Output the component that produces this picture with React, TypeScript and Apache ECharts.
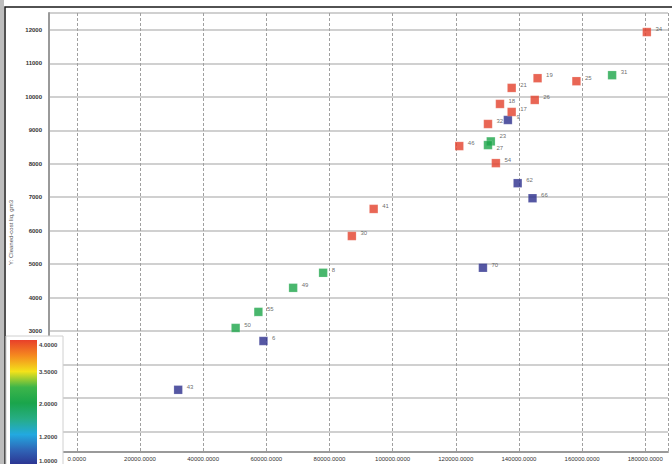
import React, { useEffect, useRef } from "react";
import * as echarts from "echarts";

// Point labels, x values, y values, colour-scale values (1 = blue, ~2.7 = green, 4 = red)
const pointNames = ["43", "6", "50", "55", "49", "8", "30", "41", "70", "46", "23", "27", "54", "62", "66", "32", "9", "17", "18", "21", "26", "19", "25", "31", "34"];
const xValues = [32100, 59100, 50300, 57500, 68500, 78000, 87100, 94000, 128600, 121100, 131100, 130200, 132700, 139600, 144300, 130200, 136500, 137700, 134000, 137700, 145000, 145900, 158200, 169500, 180500];
const yValues = [1240, 2700, 3090, 3570, 4290, 4740, 5840, 6650, 4890, 8530, 8670, 8560, 8020, 7420, 6970, 9190, 9310, 9550, 9790, 10270, 9910, 10560, 10470, 10650, 11940];
const colorValues = [1, 1, 2.7, 2.7, 2.7, 2.7, 4, 4, 1, 4, 2.7, 2.7, 4, 1, 1, 4, 1, 4, 4, 4, 4, 4, 4, 2.7, 4];

// Colour bar tick labels (top to bottom)
const colorBarLabels = ["4.0000", "3.5000", "2.0000", "1.2000", "1.0000"];
const colorBarLabelY = [345, 372, 404, 437, 461];
const colorBarStops = ["#e8402a", "#f58a1f", "#f3e21a", "#3db54a", "#1aa54b", "#26ad84", "#22a9e0", "#2f64b6", "#2c2f8e"];

const yTitle = "Y: Cleaned-cost liq, gm3";

export default function App() {
  const ref = useRef<HTMLDivElement>(null);
  useEffect(() => {
    if (!ref.current) return;
    const chart = echarts.init(ref.current, null, { renderer: "svg" });
    const data = pointNames.map((n, i) => {
      const item: any = { name: n, value: [xValues[i], yValues[i], colorValues[i]] };
      if (n === "27") item.label = { offset: [-1, 3] };
      if (n === "23") item.label = { offset: [-1, -5] };
      return item;
    });
    const gradientStops = colorBarStops.map((c, i) => ({ offset: i / (colorBarStops.length - 1), color: c }));
    chart.setOption({
      animation: false,
      backgroundColor: "#ffffff",
      grid: { left: 46, top: 13, width: 622, height: 439, show: false },
      visualMap: {
        show: false,
        type: "continuous",
        dimension: 2,
        min: 1,
        max: 4,
        inRange: { color: ["#2b2d8c", "#2b2d8c", "#1ca548", "#1ca548", "#e4402a"] },
      },
      xAxis: {
        type: "value",
        min: -8800,
        max: 187200,
        splitNumber: 10,
        axisLine: { show: true, onZero: false, lineStyle: { color: "#9a9a9a", width: 2 } },
        axisTick: { show: false },
        axisLabel: {
          showMinLabel: false,
          showMaxLabel: false,
          fontSize: 6,
          color: "#333",
          fontFamily: "Liberation Sans",
          margin: 4,
          formatter: (v: number) => v.toFixed(4),
        },
        splitLine: { show: true, lineStyle: { color: "#a0a0a0", width: 1, type: [3, 2] } },
      },
      yAxis: {
        type: "value",
        min: -620,
        max: 12510,
        splitNumber: 13,
        name: yTitle,
        nameLocation: "middle",
        nameGap: 35,
        nameRotate: 90,
        nameTextStyle: { fontSize: 6, color: "#555", fontFamily: "Liberation Sans" },
        axisLine: { show: true, onZero: false, lineStyle: { color: "#9a9a9a", width: 2 } },
        axisTick: { show: false },
        axisLabel: {
          showMinLabel: false,
          showMaxLabel: false,
          fontSize: 6,
          color: "#333",
          fontWeight: "bold",
          fontFamily: "Liberation Sans",
          margin: 7,
          formatter: (v: number) => (v >= 3000 ? String(v) : ""),
        },
        splitLine: { show: true, lineStyle: { color: "#c0c0c0", width: 1.5 } },
      },
      series: [
        {
          type: "scatter",
          symbol: "rect",
          symbolSize: 8.5,
          data,
          itemStyle: { borderColor: "rgba(255,255,255,0.35)", borderWidth: 0.6 },
          label: {
            show: true,
            position: "right",
            offset: [-1, -3],
            fontSize: 6,
            color: "#444",
            fontFamily: "Liberation Sans",
            formatter: (p: any) => p.name,
          },
        },
      ],
      graphic: [
        { type: "rect", shape: { x: 0, y: 0, width: 4, height: 464 }, style: { fill: "#bdbdbd" }, z: 100 },
        { type: "rect", shape: { x: 5, y: 7, width: 700, height: 470 }, style: { fill: "none", stroke: "#1a1a1a", lineWidth: 1.5 }, z: 100 },
        { type: "rect", shape: { x: 6, y: 336, width: 57, height: 130 }, style: { fill: "#ffffff", stroke: "#d0d0d0", lineWidth: 1 }, z: 101 },
        {
          type: "rect",
          shape: { x: 10, y: 340, width: 27, height: 126 },
          style: { fill: new echarts.graphic.LinearGradient(0, 0, 0, 1, gradientStops) },
          z: 102,
        },
        ...colorBarLabels.map((t, i) => ({
          type: "text",
          x: 39,
          y: colorBarLabelY[i],
          style: { text: t, fontSize: 6, fill: "#444", fontFamily: "Liberation Sans", fontWeight: "bold", verticalAlign: "middle" },
          z: 103,
        })),
      ],
    });
    return () => chart.dispose();
  }, []);
  return <div ref={ref} style={{ position: "fixed", left: 0, top: 0, width: 672, height: 464 }} />;
}
